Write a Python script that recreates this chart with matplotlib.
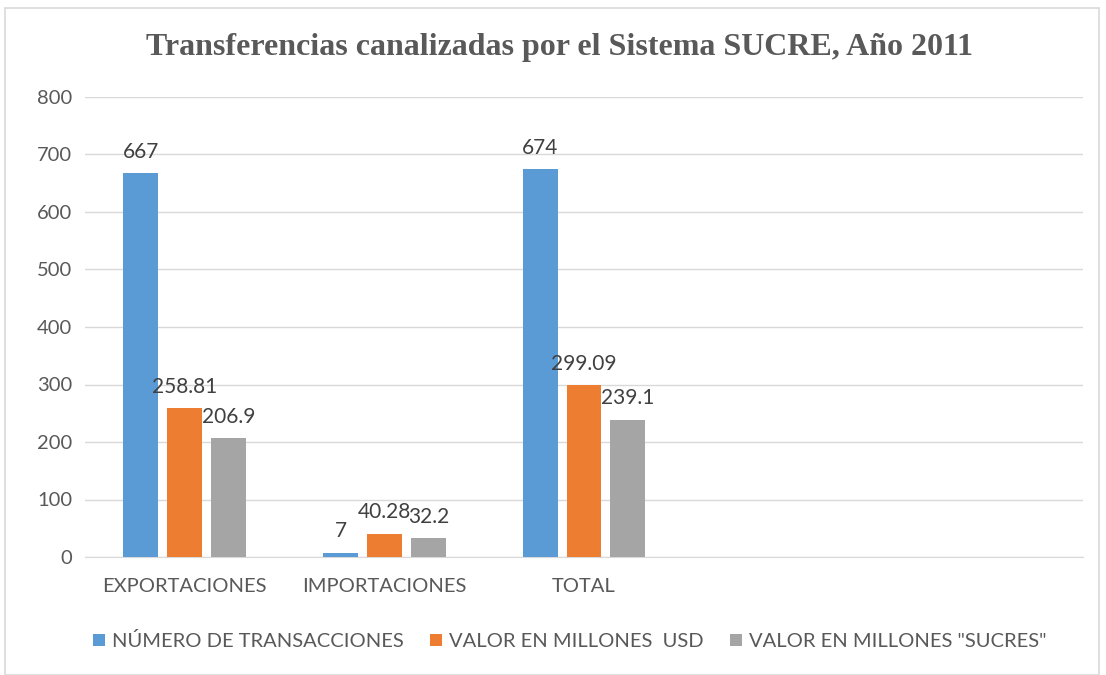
import matplotlib
matplotlib.use("Agg")
import matplotlib.pyplot as plt
import numpy as np
from matplotlib.patches import Rectangle

categories = ["EXPORTACIONES", "IMPORTACIONES", "TOTAL", "", ""]
series_names = ["NÚMERO DE TRANSACCIONES", "VALOR EN MILLONES  USD", 'VALOR EN MILLONES "SUCRES"']
num_transacciones = [667, 7, 674, np.nan, np.nan]
valor_usd = [258.81, 40.28, 299.09, np.nan, np.nan]
valor_sucres = [206.9, 32.2, 239.1, np.nan, np.nan]
label_texts = [["667", "7", "674"], ["258.81", "40.28", "299.09"], ["206.9", "32.2", "239.1"]]
colors = ["#5B9BD5", "#ED7D31", "#A5A5A5"]

fig = plt.figure(figsize=(11.06, 6.75), dpi=100)
fig.patches.append(Rectangle((5/1106, 0), 1094/1106, 1 - 8/675, transform=fig.transFigure,
                             fill=False, edgecolor="#D9D9D9", linewidth=1.2))
ax = fig.add_axes([85/1106, 1 - 557/675, (1083-85)/1106, (557-97)/675])

font = "Lato"
fs = 14.5
x = np.arange(len(categories))
width = 0.175
offsets = [-0.22, 0.0, 0.22]
series = [num_transacciones, valor_usd, valor_sucres]
for i, (vals, name, c) in enumerate(zip(series, series_names, colors)):
    bars = ax.bar(x + offsets[i], vals, width, color=c, label=name, zorder=3)
    for j, b in enumerate(bars):
        v = vals[j]
        if np.isnan(v):
            continue
        ax.text(b.get_x() + b.get_width() / 2, v + 20, label_texts[i][j], ha="center", va="bottom",
                fontsize=15, color="#404040", family=font, zorder=4)

ax.set_xlim(-0.5, len(categories) - 0.5)
ax.set_ylim(0, 800)
ax.set_yticks(range(0, 801, 100))
ax.yaxis.grid(True, color="#D9D9D9", linewidth=1, zorder=0)
ax.set_axisbelow(True)
ax.set_xticks(x)
ax.set_xticklabels(categories, family=font, fontsize=fs, color="#595959")
for t in ax.get_yticklabels():
    t.set_family(font); t.set_fontsize(fs); t.set_color("#595959")
ax.tick_params(axis="x", length=0, pad=15)
ax.tick_params(axis="y", length=0, pad=9)
for s in ["top", "right", "left"]:
    ax.spines[s].set_visible(False)
ax.spines["bottom"].set_color("#D9D9D9")

fig.text(560/1106, 1 - 47/675, "Transferencias canalizadas por el Sistema SUCRE, Año 2011", ha="center", va="center",
         family="Liberation Serif", fontweight="bold", fontsize=23, color="#595959")

leg = fig.legend(loc="center", bbox_to_anchor=(570/1106, 1 - 641/675), ncol=3, frameon=False,
                 prop={"family": font, "size": fs}, handlelength=0.6, handleheight=0.6,
                 handletextpad=0.35, columnspacing=1.3)
for t in leg.get_texts():
    t.set_color("#595959")

fig.savefig("out.png", dpi=100)
